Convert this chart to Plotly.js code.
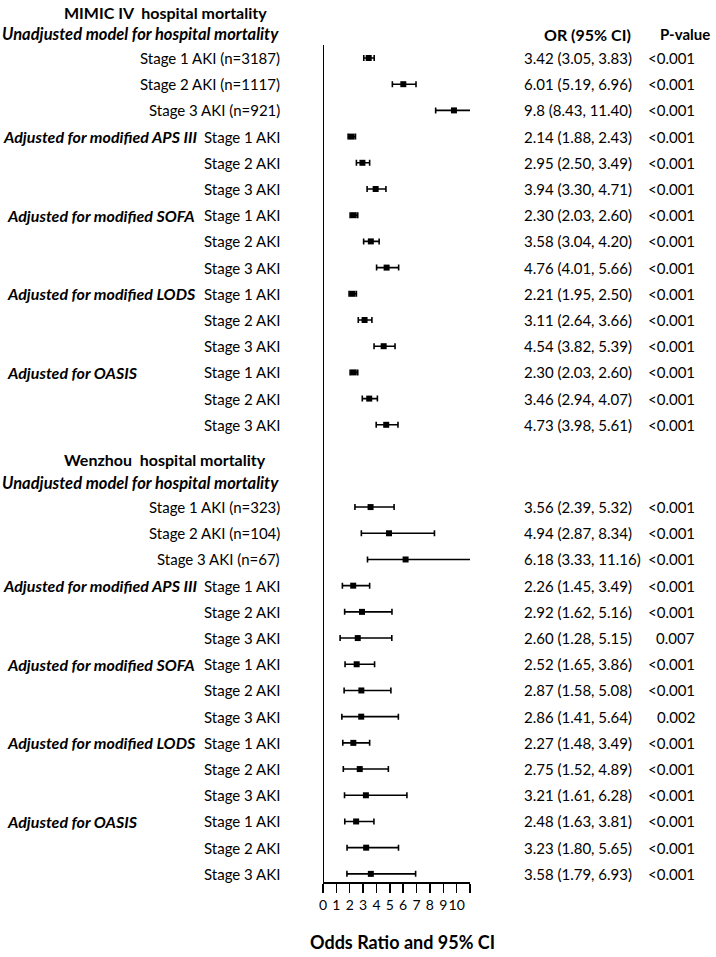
<!DOCTYPE html>
<html>
<head>
<meta charset="utf-8">
<script src="https://cdn.plot.ly/plotly-3.0.1.min.js"></script>
<style>html,body{margin:0;padding:0;background:#fff;}#chart{width:716px;height:957px;}</style>
</head>
<body>
<div id="chart"></div>
<script>
// ---------- data ----------
const mimicTitle = "MIMIC IV  hospital mortality";
const wenzhouTitle = "Wenzhou  hospital mortality";
const groupNames = ["Unadjusted model for hospital mortality", "Adjusted for modified APS III", "Adjusted for modified SOFA", "Adjusted for modified LODS", "Adjusted for OASIS"];

const mimicLabels = ["Stage 1 AKI (n=3187)", "Stage 2 AKI (n=1117)", "Stage 3 AKI (n=921)",
  "Stage 1 AKI", "Stage 2 AKI", "Stage 3 AKI", "Stage 1 AKI", "Stage 2 AKI", "Stage 3 AKI",
  "Stage 1 AKI", "Stage 2 AKI", "Stage 3 AKI", "Stage 1 AKI", "Stage 2 AKI", "Stage 3 AKI"];
const mimicOR = [3.42, 6.01, 9.8, 2.14, 2.95, 3.94, 2.30, 3.58, 4.76, 2.21, 3.11, 4.54, 2.30, 3.46, 4.73];
const mimicLo = [3.05, 5.19, 8.43, 1.88, 2.50, 3.30, 2.03, 3.04, 4.01, 1.95, 2.64, 3.82, 2.03, 2.94, 3.98];
const mimicHi = [3.83, 6.96, 11.40, 2.43, 3.49, 4.71, 2.60, 4.20, 5.66, 2.50, 3.66, 5.39, 2.60, 4.07, 5.61];
const mimicText = ["3.42 (3.05, 3.83)", "6.01 (5.19, 6.96)", "9.8 (8.43, 11.40)", "2.14 (1.88, 2.43)", "2.95 (2.50, 3.49)",
  "3.94 (3.30, 4.71)", "2.30 (2.03, 2.60)", "3.58 (3.04, 4.20)", "4.76 (4.01, 5.66)", "2.21 (1.95, 2.50)",
  "3.11 (2.64, 3.66)", "4.54 (3.82, 5.39)", "2.30 (2.03, 2.60)", "3.46 (2.94, 4.07)", "4.73 (3.98, 5.61)"];
const mimicP = ["<0.001", "<0.001", "<0.001", "<0.001", "<0.001", "<0.001", "<0.001", "<0.001", "<0.001", "<0.001", "<0.001", "<0.001", "<0.001", "<0.001", "<0.001"];

const wzLabels = ["Stage 1 AKI (n=323)", "Stage 2 AKI (n=104)", "Stage 3 AKI (n=67)",
  "Stage 1 AKI", "Stage 2 AKI", "Stage 3 AKI", "Stage 1 AKI", "Stage 2 AKI", "Stage 3 AKI",
  "Stage 1 AKI", "Stage 2 AKI", "Stage 3 AKI", "Stage 1 AKI", "Stage 2 AKI", "Stage 3 AKI"];
const wzOR = [3.56, 4.94, 6.18, 2.26, 2.92, 2.60, 2.52, 2.87, 2.86, 2.27, 2.75, 3.21, 2.48, 3.23, 3.58];
const wzLo = [2.39, 2.87, 3.33, 1.45, 1.62, 1.28, 1.65, 1.58, 1.41, 1.48, 1.52, 1.61, 1.63, 1.80, 1.79];
const wzHi = [5.32, 8.34, 11.16, 3.49, 5.16, 5.15, 3.86, 5.08, 5.64, 3.49, 4.89, 6.28, 3.81, 5.65, 6.93];
const wzText = ["3.56 (2.39, 5.32)", "4.94 (2.87, 8.34)", "6.18 (3.33, 11.16)", "2.26 (1.45, 3.49)", "2.92 (1.62, 5.16)",
  "2.60 (1.28, 5.15)", "2.52 (1.65, 3.86)", "2.87 (1.58, 5.08)", "2.86 (1.41, 5.64)", "2.27 (1.48, 3.49)",
  "2.75 (1.52, 4.89)", "3.21 (1.61, 6.28)", "2.48 (1.63, 3.81)", "3.23 (1.80, 5.65)", "3.58 (1.79, 6.93)"];
const wzP = ["<0.001", "<0.001", "<0.001", "<0.001", "<0.001", "0.007", "<0.001", "<0.001", "0.002", "<0.001", "<0.001", "<0.001", "<0.001", "<0.001", "<0.001"];

const xTickVals = [0, 1, 2, 3, 4, 5, 6, 7, 8, 9, 10, 11];
const xTickText = ["0", "1", "2", "3", "4", "5", "6", "7", "8", "9", "10", ""];
const xTitle = "Odds Ratio and 95% CI";
const colHeaderOR = "OR (95% CI)";
const colHeaderP = "P-value";

// ---------- layout helpers ----------
const W = 716, H = 957;
const plotBottomPx = 882;
const rowPx = 26.2;
const firstRowPx = 58;
const wzOffset = 17.14;            // row position of first Wenzhou row
const FONT = "Lato, 'Liberation Sans', sans-serif";
const px = v => v / W;             // pixel x -> paper x
const pyPaper = p => (plotBottomPx - p) / plotBottomPx;
const rowOf = p => (p - firstRowPx) / rowPx;

const mimicY = mimicOR.map((_, i) => i);
const wzY = wzOR.map((_, i) => wzOffset + i);

const allOR = mimicOR.concat(wzOR);
const allLo = mimicLo.concat(wzLo);
const allHi = mimicHi.concat(wzHi);
const allY = mimicY.concat(wzY);

const trace = {
  type: "scatter", mode: "markers",
  x: allOR, y: allY,
  marker: {symbol: "square", size: 6, color: "#000"},
  error_x: {type: "data", symmetric: false,
    array: allHi.map((h, i) => h - allOR[i]),
    arrayminus: allLo.map((l, i) => allOR[i] - l),
    color: "#000", thickness: 1.6, width: 3},
  hoverinfo: "skip", showlegend: false, cliponaxis: false
};

const ann = [];
const baseFont = {family: FONT, size: 15, color: "#000"};
function addText(text, xPix, yVal, anchor, font, yref) {
  ann.push({text: text, x: px(xPix), xref: "paper", y: yVal, yref: yref || "y",
    xanchor: anchor, yanchor: "middle", showarrow: false, font: Object.assign({}, baseFont, font || {})});
}

function addSection(title, titleY, labels, ys, texts, ps) {
  addText("<b>" + title + "</b>", 165, titleY, "center", {size: 16});
  addText("<b><i>" + groupNames[0] + "</i></b>", 0, ys[0] - 0.93, "left", {size: 16.5});
  labels.forEach((lab, i) => {
    addText(lab, 282, ys[i], "right");
    addText(texts[i], 522, ys[i], "left");
    addText(ps[i], 697, ys[i], "right");
  });
  for (let g = 1; g < groupNames.length; g++) {
    addText("<b><i>" + groupNames[g] + "</i></b>", g === 1 ? 1 : 5, ys[3 * g], "left", {size: 16});
  }
}

addSection(mimicTitle, rowOf(12), mimicLabels, mimicY, mimicText, mimicP);
addSection(wenzhouTitle, rowOf(459), wzLabels, wzY, wzText, wzP);
addText("<b>" + colHeaderOR + "</b>", 542, rowOf(34), "left", {size: 16});
addText("<b>" + colHeaderP + "</b>", 658, rowOf(34), "left", {size: 15});
addText("<b>" + xTitle + "</b>", 402, pyPaper(942), "center", {size: 18}, "paper");

const layout = {
  width: W, height: H,
  margin: {l: 0, r: 0, t: 0, b: H - plotBottomPx, pad: 0},
  paper_bgcolor: "#fff", plot_bgcolor: "rgba(0,0,0,0)",
  showlegend: false,
  xaxis: {
    domain: [323 / W, 470 / W], range: [0, 11], fixedrange: true,
    tickmode: "array", tickvals: xTickVals, ticktext: xTickText, tickangle: 0,
    showline: true, linecolor: "#000", linewidth: 2, mirror: false,
    ticks: "outside", ticklen: 9, tickwidth: 1.5, tickcolor: "#000",
    showgrid: false, zeroline: false,
    tickfont: {family: FONT, size: 14, color: "#000"}
  },
  yaxis: {
    range: [rowOf(plotBottomPx), rowOf(0)], fixedrange: true,
    showgrid: false, zeroline: false, showline: false, showticklabels: false, ticks: ""
  },
  shapes: [{type: "line", xref: "x", yref: "y", x0: 0, x1: 0, y0: rowOf(45), y1: rowOf(plotBottomPx),
    line: {color: "#000", width: 2}}],
  annotations: ann
};

Plotly.newPlot("chart", [trace], layout, {staticPlot: true, displayModeBar: false});
</script>
</body>
</html>
